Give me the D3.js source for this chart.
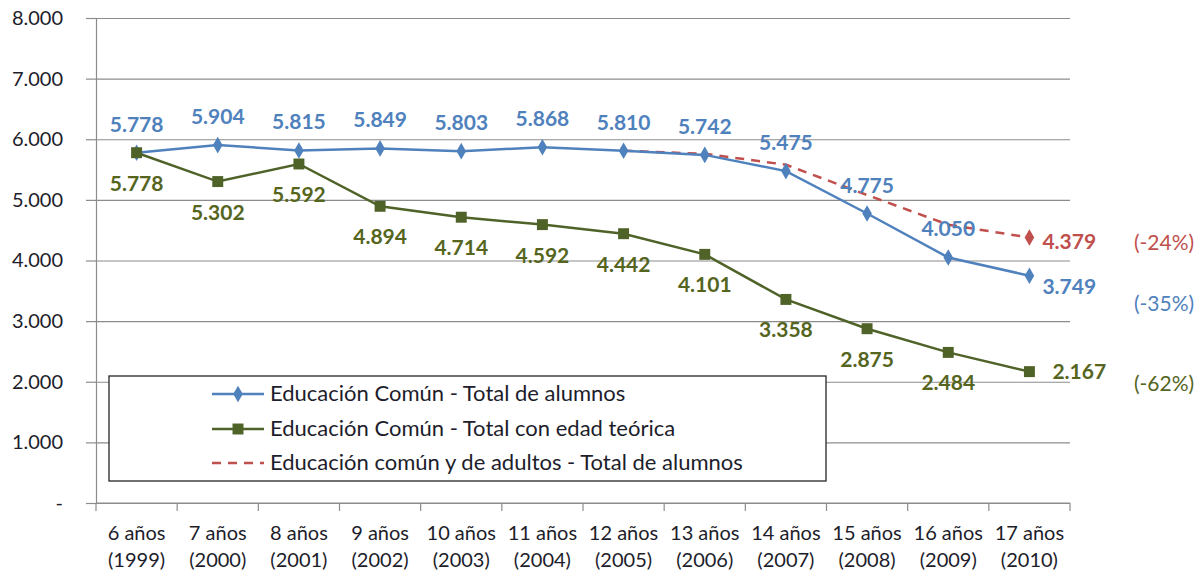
<!DOCTYPE html>
<html>
<head>
<meta charset="utf-8">
<script src="https://cdn.jsdelivr.net/npm/d3@7"></script>
<style>
  body { margin: 0; background: #fff; }
  svg { font-family: Lato, "Open Sans", sans-serif; }
</style>
</head>
<body>
<div id="chart"></div>
<script>
// categorias (edad teorica y año)
var edades = ["6 años", "7 años", "8 años", "9 años", "10 años", "11 años", "12 años", "13 años", "14 años", "15 años", "16 años", "17 años"];
var anios = ["(1999)", "(2000)", "(2001)", "(2002)", "(2003)", "(2004)", "(2005)", "(2006)", "(2007)", "(2008)", "(2009)", "(2010)"];

// series
var totalAlumnos = [5778, 5904, 5815, 5849, 5803, 5868, 5810, 5742, 5475, 4775, 4050, 3749];
var edadTeorica = [5778, 5302, 5592, 4894, 4714, 4592, 4442, 4101, 3358, 2875, 2484, 2167];
var comunAdultos = [null, null, null, null, null, null, 5810, 5760, 5580, 5080, 4590, 4379];

var yTicks = [0, 1000, 2000, 3000, 4000, 5000, 6000, 7000, 8000];
var seriesNames = ["Educación Común - Total de alumnos", "Educación Común - Total con edad teórica", "Educación común y de adultos - Total de alumnos"];
var variaciones = ["(-35%)", "(-62%)", "(-24%)"];

var W = 1202, H = 573;
var margin = {top: 18, right: 132, bottom: 70, left: 96};
var width = W - margin.left - margin.right,
    height = H - margin.top - margin.bottom;

var azul = "#4F81BD", verde = "#4F6228", rojo = "#C0504D";
var azulTxt = "#4F81BD", verdeTxt = "#55651E";

var locale = d3.formatLocale({decimal: ",", thousands: ".", grouping: [3], currency: ["", ""]});
var fmt = locale.format(",.0f");

var svg = d3.select("#chart").append("svg")
    .attr("width", W)
    .attr("height", H);

var g = svg.append("g").attr("transform", "translate(" + margin.left + "," + margin.top + ")");

var x = d3.scaleBand().domain(edades).range([0, width]).paddingInner(0).paddingOuter(0);
var y = d3.scaleLinear().domain([0, 8000]).range([height, 0]);
var cx = function(i) { return x(edades[i]) + x.bandwidth() / 2; };

// grid
g.append("g")
    .attr("class", "grid")
    .call(d3.axisLeft(y).tickValues(yTicks).tickSize(-width).tickFormat(""))
    .call(function(s) {
        s.select(".domain").remove();
        s.selectAll("line").attr("stroke", "#8c8c8c").attr("stroke-width", 1.2);
    });

// eje y
g.append("g")
    .call(d3.axisLeft(y).tickValues(yTicks).tickSize(10).tickPadding(23)
        .tickFormat(function(d) { return d === 0 ? "-" : fmt(d); }))
    .call(function(s) {
        s.select(".domain").attr("stroke", "#8c8c8c").attr("stroke-width", 1.2);
        s.selectAll("line").attr("stroke", "#8c8c8c").attr("stroke-width", 1.2);
        s.selectAll("text").attr("fill", "#1d1d2b").style("font-size", "20px").style("font-family", "Lato");
    });

// eje x
var xAxis = g.append("g").attr("transform", "translate(0," + height + ")");
xAxis.append("line").attr("x1", 0).attr("x2", width).attr("stroke", "#8c8c8c").attr("stroke-width", 1.2);
xAxis.selectAll(".tk")
    .data(edades.concat(["fin"]))
    .enter().append("line")
    .attr("x1", function(d, i) { return i * x.step(); })
    .attr("x2", function(d, i) { return i * x.step(); })
    .attr("y1", 0).attr("y2", 8)
    .attr("stroke", "#8c8c8c").attr("stroke-width", 1.2);
var xl = xAxis.selectAll(".lbl")
    .data(edades)
    .enter().append("text")
    .attr("text-anchor", "middle")
    .attr("fill", "#1d1d2b")
    .style("font-size", "20px");
xl.append("tspan").attr("x", function(d, i) { return cx(i); }).attr("y", 37).text(function(d) { return d; });
xl.append("tspan").attr("x", function(d, i) { return cx(i); }).attr("y", 64).text(function(d, i) { return anios[i]; });

// leyenda
var leg = g.append("g").attr("transform", "translate(" + (109 - margin.left) + "," + (376 - margin.top) + ")");
leg.append("rect").attr("width", 717).attr("height", 105).attr("fill", "#fff").attr("stroke", "#262626").attr("stroke-width", 1.3);

var lineFn = d3.line()
    .defined(function(d) { return d != null; })
    .x(function(d, i) { return cx(i); })
    .y(function(d) { return y(d); });

// series
g.append("path").datum(comunAdultos)
    .attr("fill", "none").attr("stroke", rojo).attr("stroke-width", 2.5)
    .attr("stroke-dasharray", "9,7").attr("d", lineFn);
g.append("path").datum(totalAlumnos)
    .attr("fill", "none").attr("stroke", azul).attr("stroke-width", 2.5).attr("d", lineFn);
g.append("path").datum(edadTeorica)
    .attr("fill", "none").attr("stroke", verde).attr("stroke-width", 2.5).attr("d", lineFn);

var diamond = d3.symbol().type(d3.symbolDiamond).size(80);
var square = d3.symbol().type(d3.symbolSquare).size(120);

g.selectAll(".mAzul").data(totalAlumnos).enter().append("path")
    .attr("d", diamond).attr("fill", azul)
    .attr("transform", function(d, i) { return "translate(" + cx(i) + "," + y(d) + ")"; });
g.selectAll(".mVerde").data(edadTeorica).enter().append("path")
    .attr("d", square).attr("fill", verde)
    .attr("transform", function(d, i) { return "translate(" + cx(i) + "," + y(d) + ")"; });
var ult = edades.length - 1;
g.append("path").attr("d", diamond).attr("fill", rojo)
    .attr("transform", "translate(" + cx(ult) + "," + y(comunAdultos[ult]) + ")");

// etiquetas de datos
var lblStyle = function(s) { s.style("font-size", "21px").style("font-weight", "bold"); };
g.selectAll(".tAzul").data(totalAlumnos).enter().append("text")
    .call(lblStyle).attr("fill", azulTxt)
    .attr("text-anchor", function(d, i) { return i === ult ? "start" : "middle"; })
    .attr("x", function(d, i) { return i === ult ? cx(i) + 13 : cx(i); })
    .attr("y", function(d, i) { return i === ult ? y(d) + 18 : y(d) - 21; })
    .text(function(d) { return fmt(d); });
g.selectAll(".tVerde").data(edadTeorica).enter().append("text")
    .call(lblStyle).attr("fill", verdeTxt)
    .attr("text-anchor", function(d, i) { return i === ult ? "start" : "middle"; })
    .attr("x", function(d, i) { return i === ult ? cx(i) + 23 : cx(i); })
    .attr("y", function(d, i) { return i === ult ? y(d) + 7 : y(d) + 38; })
    .text(function(d) { return fmt(d); });
g.append("text").call(lblStyle).attr("fill", rojo)
    .attr("x", cx(ult) + 13).attr("y", y(comunAdultos[ult]) + 11)
    .text(fmt(comunAdultos[ult]));

// variaciones
var colVar = [azulTxt, verdeTxt, rojo];
var yVar = [304, 384, 243];
svg.selectAll(".var").data(variaciones).enter().append("text")
    .attr("x", 1164).attr("y", function(d, i) { return yVar[i] + 7; })
    .attr("text-anchor", "middle")
    .attr("fill", function(d, i) { return colVar[i]; })
    .style("font-size", "21px")
    .text(function(d) { return d; });

// leyenda entradas
var legY = [18, 53, 87];
var legCol = [azul, verde, rojo];
legY.forEach(function(ly, i) {
    var row = leg.append("g").attr("transform", "translate(0," + ly + ")");
    var ln = row.append("line").attr("x1", 103).attr("x2", 155)
        .attr("stroke", legCol[i]).attr("stroke-width", 2.5);
    if (i === 2) ln.attr("stroke-dasharray", "9,7");
    if (i === 0) row.append("path").attr("d", diamond).attr("fill", azul).attr("transform", "translate(129,0)");
    if (i === 1) row.append("path").attr("d", square).attr("fill", verde).attr("transform", "translate(129,0)");
    row.append("text").attr("x", 161).attr("y", 7).attr("fill", "#1d1d2b")
        .style("font-size", "22px").text(seriesNames[i]);
});
</script>
</body>
</html>
